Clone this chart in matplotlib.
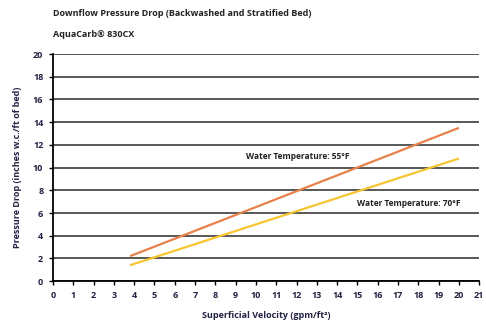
import matplotlib
matplotlib.use("Agg")
import matplotlib.pyplot as plt

velocity_55 = [3.8, 20.0]
drop_55 = [2.2, 13.5]
velocity_70 = [3.8, 20.0]
drop_70 = [1.4, 10.8]
x_ticks = list(range(0, 22))
y_ticks = list(range(0, 21, 2))

plt.rcParams['font.family'] = ['Open Sans', 'DejaVu Sans']

fig = plt.figure(figsize=(4.86, 3.22), dpi=100)
ax = fig.add_axes([0.109, 0.127, 0.877, 0.705])

ax.plot(velocity_55, drop_55, color='#e8804a', lw=1.6, solid_capstyle='butt')
ax.plot(velocity_70, drop_70, color='#f7c531', lw=1.6, solid_capstyle='butt')

ax.set_xlim(0, 21)
ax.set_ylim(0, 20)
ax.set_xticks(x_ticks)
ax.set_yticks(y_ticks)
ax.tick_params(labelsize=6.5, length=3, width=1, direction='out', pad=4, colors='black')
for lab in ax.get_xticklabels() + ax.get_yticklabels():
    lab.set_fontweight('bold')
    lab.set_color('#222244')

ax.yaxis.grid(True, color='#4a4a4a', lw=1.3)
ax.set_axisbelow(True)
for s in ['top', 'right']:
    ax.spines[s].set_visible(False)
for s in ['left', 'bottom']:
    ax.spines[s].set_linewidth(1.3)

ax.set_xlabel('Superficial Velocity (gpm/ft²)', fontsize=6.5, fontweight='bold', color='#222244', labelpad=8)
ax.set_ylabel('Pressure Drop (inches w.c./ft of bed)', fontsize=6.5, fontweight='bold', color='#222244', labelpad=8)

ax.text(9.5, 10.8, 'Water Temperature: 55°F', fontsize=6, fontweight='bold', color='#222222')
ax.text(15.0, 6.6, 'Water Temperature: 70°F', fontsize=6, fontweight='bold', color='#222222')

fig.text(0.109, 0.95, 'Downflow Pressure Drop (Backwashed and Stratified Bed)', fontsize=6.5, fontweight='bold', color='#222222')
fig.text(0.109, 0.885, 'AquaCarb® 830CX', fontsize=6.5, fontweight='bold', color='#222222')

fig.savefig('out.png', dpi=100)
